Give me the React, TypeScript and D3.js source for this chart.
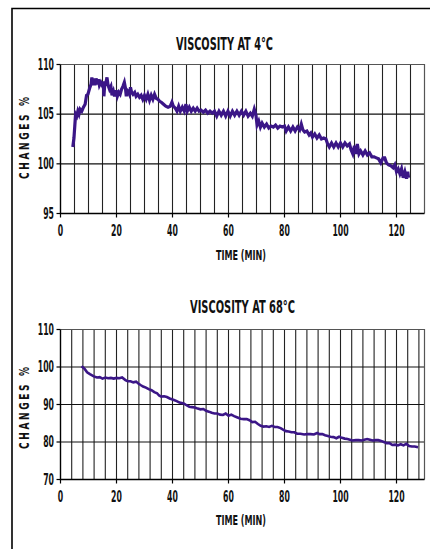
import { useEffect, useRef } from 'react';
import * as d3 from 'd3';

// time (min), change (%)
const visc4C: [number, number][] = [
  [4.4, 101.7], [4.8, 102.6], [5.1, 103.8], [5.4, 105.0], [5.8, 104.8], [6.2, 105.3], [6.6, 105.0],
  [7.0, 105.5], [7.6, 105.3], [8.2, 105.7], [8.8, 106.0], [9.3, 106.9], [9.8, 107.0], [10.4, 107.6],
  [10.9, 108.0], [11.2, 108.7], [11.5, 107.9], [11.9, 108.6], [12.3, 107.9], [12.7, 108.6], [13.1, 108.0],
  [13.5, 108.5], [13.9, 107.9], [14.4, 108.2], [14.9, 107.9], [15.3, 108.3], [15.5, 106.8], [15.8, 108.0],
  [16.1, 108.0], [16.6, 108.7], [17.0, 107.9], [17.5, 107.5], [18.0, 107.8], [18.4, 106.9], [18.9, 107.3],
  [19.3, 106.8], [19.8, 107.4], [20.3, 106.8], [20.8, 107.2], [21.3, 107.0], [21.8, 107.5], [22.3, 107.8],
  [22.8, 108.2], [23.2, 107.6], [23.5, 106.8], [23.8, 107.4], [24.1, 107.3], [24.6, 107.0], [25.0, 107.7],
  [25.4, 107.2], [25.9, 107.0], [26.5, 107.2], [27.0, 106.8], [27.6, 107.0], [28.2, 106.7], [28.8, 106.9],
  [29.4, 106.5], [30.0, 106.9], [30.6, 106.5], [31.2, 107.0], [31.8, 106.4], [32.4, 106.9], [33.0, 106.5],
  [33.6, 107.0], [34.2, 106.6], [34.8, 106.5], [35.4, 106.3], [36.0, 106.2], [36.8, 106.0], [37.6, 105.8],
  [38.4, 105.7], [39.2, 105.8], [39.8, 106.2], [40.3, 105.8], [41.0, 105.6], [41.6, 105.3], [42.2, 105.8],
  [42.8, 105.3], [43.5, 105.7], [44.2, 105.3], [44.8, 106.0], [45.3, 105.3], [46.0, 105.7], [46.7, 105.3],
  [47.4, 105.6], [48.1, 105.3], [48.8, 105.6], [49.5, 105.3], [50.2, 105.4], [51.0, 105.2], [51.8, 105.4],
  [52.6, 105.1], [53.4, 105.3], [54.2, 105.1], [55.0, 105.3], [55.8, 104.8], [56.6, 105.3], [57.4, 104.9],
  [58.2, 105.3], [59.0, 104.8], [59.8, 105.3], [60.6, 104.8], [61.4, 105.3], [62.2, 104.9], [63.0, 105.3],
  [63.8, 104.9], [64.6, 105.3], [65.4, 104.9], [66.2, 105.3], [67.0, 104.8], [67.8, 105.1], [68.5, 104.8],
  [69.2, 105.5], [69.8, 104.9], [70.2, 103.9], [70.8, 104.3], [71.4, 103.7], [72.0, 104.1], [72.8, 103.7],
  [73.6, 104.0], [74.4, 103.6], [75.2, 103.8], [76.0, 103.7], [76.8, 103.9], [77.6, 103.6], [78.4, 103.8],
  [79.2, 103.7], [80.0, 103.8], [80.6, 103.3], [81.4, 103.7], [82.2, 103.3], [83.0, 103.7], [83.8, 103.3],
  [84.6, 103.7], [85.4, 103.4], [86.0, 104.0], [86.6, 103.4], [87.2, 103.2], [88.0, 103.3], [88.8, 102.9],
  [89.4, 103.1], [90.0, 102.7], [90.8, 103.0], [91.6, 102.6], [92.4, 102.9], [93.2, 102.5], [94.0, 102.6],
  [94.8, 102.5], [95.4, 102.0], [96.0, 101.7], [96.8, 102.1], [97.6, 101.7], [98.4, 102.1], [99.2, 101.7],
  [100.0, 102.1], [100.8, 101.7], [101.6, 102.1], [102.4, 101.8], [103.2, 102.0], [103.8, 101.4], [104.4, 101.0],
  [105.0, 101.8], [105.6, 101.0], [106.0, 102.0], [106.6, 101.0], [107.2, 101.3], [108.0, 100.9], [108.8, 101.3],
  [109.6, 100.9], [110.4, 101.1], [111.2, 100.7], [112.0, 100.7], [112.8, 100.6], [113.6, 100.5], [114.4, 100.1],
  [115.2, 100.6], [115.8, 100.6], [116.4, 100.1], [117.2, 99.9], [118.0, 99.8], [118.8, 99.6], [119.4, 99.9],
  [120.0, 99.2], [120.6, 99.5], [121.2, 99.0], [121.8, 99.5], [122.4, 98.6], [123.0, 99.2], [123.6, 98.5],
  [124.0, 99.2], [124.3, 98.6],
];

const visc68C: [number, number][] = [
  [7.5, 100.2], [8.5, 99.6], [9.5, 98.6], [10.5, 98.1], [11.9, 97.5], [13.0, 97.2], [14.0, 97.3],
  [15.0, 96.9], [16.0, 97.2], [17.0, 97.0], [18.0, 97.1], [19.0, 96.9], [20.0, 97.1], [21.0, 97.0],
  [22.0, 97.2], [23.2, 96.5], [24.0, 96.2], [25.0, 96.2], [26.0, 95.9], [27.0, 96.1], [27.8, 95.6],
  [28.6, 95.2], [29.5, 94.8], [30.5, 94.5], [31.5, 94.1], [32.5, 93.8], [33.5, 93.3], [34.5, 93.0],
  [35.2, 92.4], [36.0, 92.1], [37.0, 92.2], [38.0, 92.0], [39.0, 91.6], [40.5, 91.2], [41.5, 90.9],
  [42.5, 90.5], [44.0, 90.3], [45.0, 89.8], [46.0, 89.4], [47.0, 89.3], [48.0, 89.2], [49.0, 88.9],
  [50.0, 88.7], [51.0, 88.8], [52.0, 88.3], [53.0, 88.1], [54.0, 87.8], [55.0, 87.6], [56.0, 87.6],
  [57.0, 87.3], [58.0, 87.2], [59.0, 87.6], [60.0, 87.0], [61.0, 87.3], [62.0, 86.9], [63.0, 86.6],
  [64.3, 86.2], [65.5, 86.1], [66.5, 86.1], [67.5, 85.8], [68.5, 85.3], [69.5, 85.4], [70.5, 84.8],
  [71.5, 84.3], [72.5, 84.1], [73.5, 84.2], [74.5, 84.0], [75.5, 84.3], [76.5, 84.0], [77.5, 84.0],
  [78.6, 83.7], [79.5, 83.3], [80.5, 82.9], [81.5, 82.8], [82.5, 82.6], [83.5, 82.6], [84.5, 82.2],
  [85.7, 82.2], [87.0, 82.0], [88.0, 82.1], [89.3, 82.1], [90.5, 82.0], [91.7, 82.4], [92.5, 82.1],
  [93.5, 82.1], [94.5, 81.8], [95.5, 81.6], [96.4, 81.4], [97.5, 81.3], [98.5, 81.0], [99.5, 81.4],
  [100.5, 81.1], [101.5, 80.9], [102.5, 80.8], [104.2, 80.4], [105.5, 80.5], [106.5, 80.5], [107.5, 80.4],
  [108.5, 80.6], [109.5, 80.8], [110.5, 80.6], [111.5, 80.4], [112.5, 80.5], [113.5, 80.5], [114.5, 80.3],
  [115.5, 80.0], [116.5, 79.7], [117.5, 79.7], [118.5, 79.2], [119.5, 79.3], [120.5, 79.1], [121.5, 79.4],
  [122.5, 79.1], [123.5, 79.5], [124.5, 78.9], [125.5, 78.8], [126.5, 78.8], [127.7, 78.6],
];

const timeTicks = [0, 20, 40, 60, 80, 100, 120];
const topYTicks = [95, 100, 105, 110];
const topHGrid = [100, 105];
const bottomYTicks = [70, 80, 90, 100, 110];
const bottomHGrid = [80, 90, 100];

const LINE_COLOR = '#3b1687';
const FONT = "'Liberation Sans Narrow', 'DejaVu Sans Condensed', 'Roboto', sans-serif";

interface Panel {
  data: [number, number][];
  yDomain: [number, number];
  top: number;
  bottom: number;
  yTicks: number[];
  hGrid: number[];
  gridStep: number;
  title: string;
  titleX: number;
  titleW: number;
  titleY: number;
  xLabelY: number;
  yLabelY: number;
  lineWidth: number;
}

function drawPanel(svg: d3.Selection<SVGSVGElement, unknown, null, undefined>, p: Panel) {
  const left = 60.5;
  const right = 424.5;
  const x = d3.scaleLinear().domain([0, 130]).range([left, right]);
  const y = d3.scaleLinear().domain(p.yDomain).range([p.bottom, p.top]);
  const g = svg.append('g');

  // vertical grid
  g.selectAll('.vgrid')
    .data(d3.range(p.gridStep, 130, p.gridStep))
    .enter()
    .append('line')
    .attr('x1', d => x(d)).attr('x2', d => x(d))
    .attr('y1', p.top).attr('y2', p.bottom)
    .attr('stroke', '#222')
    .attr('stroke-width', 1.1);

  // horizontal grid
  g.selectAll('.hgrid')
    .data(p.hGrid)
    .enter()
    .append('line')
    .attr('x1', left).attr('x2', right)
    .attr('y1', d => y(d)).attr('y2', d => y(d))
    .attr('stroke', '#111')
    .attr('stroke-width', 1.1);

  // top / right border
  g.append('path')
    .attr('d', `M${left},${p.top}H${right}V${p.bottom}`)
    .attr('fill', 'none')
    .attr('stroke', '#555')
    .attr('stroke-width', 1.2);

  // axes
  g.append('path')
    .attr('d', `M${left},${p.top}V${p.bottom}H${right}`)
    .attr('fill', 'none')
    .attr('stroke', '#000')
    .attr('stroke-width', 1.4);

  // y ticks + labels
  p.yTicks.forEach(v => {
    g.append('line')
      .attr('x1', left - 4).attr('x2', left)
      .attr('y1', y(v)).attr('y2', y(v))
      .attr('stroke', '#000').attr('stroke-width', 1.2);
    const s = String(v);
    g.append('text')
      .attr('x', left - 6.5)
      .attr('y', y(v) + 5)
      .attr('text-anchor', 'end')
      .attr('font-family', FONT)
      .attr('font-weight', 'bold')
      .attr('font-size', 15)
      .attr('textLength', s.length * 5.4)
      .attr('lengthAdjust', 'spacingAndGlyphs')
      .attr('fill', '#111')
      .text(s);
  });

  // x ticks + labels
  timeTicks.forEach(t => {
    g.append('line')
      .attr('x1', x(t)).attr('x2', x(t))
      .attr('y1', p.bottom).attr('y2', p.bottom + 4)
      .attr('stroke', '#000').attr('stroke-width', 1.2);
    const s = String(t);
    g.append('text')
      .attr('x', x(t))
      .attr('y', p.bottom + 22)
      .attr('text-anchor', 'middle')
      .attr('font-family', FONT)
      .attr('font-weight', 'bold')
      .attr('font-size', 15)
      .attr('textLength', s.length * 5.4)
      .attr('lengthAdjust', 'spacingAndGlyphs')
      .attr('fill', '#111')
      .text(s);
  });

  // data line
  const line = d3.line<[number, number]>().x(d => x(d[0])).y(d => y(d[1]));
  g.append('path')
    .datum(p.data)
    .attr('d', line)
    .attr('fill', 'none')
    .attr('stroke', LINE_COLOR)
    .attr('stroke-width', p.lineWidth)
    .attr('stroke-linejoin', 'miter');

  // title
  g.append('text')
    .attr('x', p.titleX)
    .attr('y', p.titleY)
    .attr('text-anchor', 'middle')
    .attr('font-family', FONT)
    .attr('font-weight', 'bold')
    .attr('font-size', 17)
    .attr('textLength', p.titleW)
    .attr('lengthAdjust', 'spacingAndGlyphs')
    .attr('fill', '#111')
    .text(p.title);

  // x label
  g.append('text')
    .attr('x', 241)
    .attr('y', p.xLabelY)
    .attr('text-anchor', 'middle')
    .attr('font-family', FONT)
    .attr('font-weight', 'bold')
    .attr('font-size', 14)
    .attr('textLength', 50)
    .attr('lengthAdjust', 'spacingAndGlyphs')
    .attr('fill', '#111')
    .text('TIME (MIN)');

  // y label: narrow glyphs, wide letter spacing
  g.append('text')
    .attr('transform', `translate(29,${p.yLabelY}) rotate(-90) scale(0.72,1)`)
    .attr('text-anchor', 'middle')
    .attr('font-family', FONT)
    .attr('font-weight', 'bold')
    .attr('font-size', 14)
    .attr('textLength', 82 / 0.72)
    .attr('lengthAdjust', 'spacing')
    .attr('fill', '#111')
    .text('CHANGES %');
}

export default function App() {
  const svgRef = useRef<SVGSVGElement>(null);

  useEffect(() => {
    if (!svgRef.current) return;
    const svg = d3.select(svgRef.current);
    svg.selectAll('*').remove();

    svg.append('rect')
      .attr('width', 430).attr('height', 549).attr('fill', '#fff');

    // outer frame
    svg.append('path')
      .attr('d', 'M12,560V8.5H440')
      .attr('fill', 'none')
      .attr('stroke', '#000')
      .attr('stroke-width', 1.6);

    drawPanel(svg, {
      data: visc4C,
      yDomain: [95, 110],
      top: 64.5,
      bottom: 213.5,
      yTicks: topYTicks,
      hGrid: topHGrid,
      gridStep: 5,
      title: 'VISCOSITY AT 4°C',
      titleX: 224.5,
      titleW: 97,
      titleY: 50,
      xLabelY: 260,
      yLabelY: 138,
      lineWidth: 3.2,
    });

    drawPanel(svg, {
      data: visc68C,
      yDomain: [70, 110],
      top: 329.5,
      bottom: 479.5,
      yTicks: bottomYTicks,
      hGrid: bottomHGrid,
      gridStep: 4,
      title: 'VISCOSITY AT 68°C',
      titleX: 242.5,
      titleW: 105,
      titleY: 313,
      xLabelY: 525,
      yLabelY: 408,
      lineWidth: 2.6,
    });
  }, []);

  return (
    <svg
      ref={svgRef}
      width={430}
      height={549}
      style={{ position: 'absolute', left: 0, top: 0, display: 'block' }}
    />
  );
}
